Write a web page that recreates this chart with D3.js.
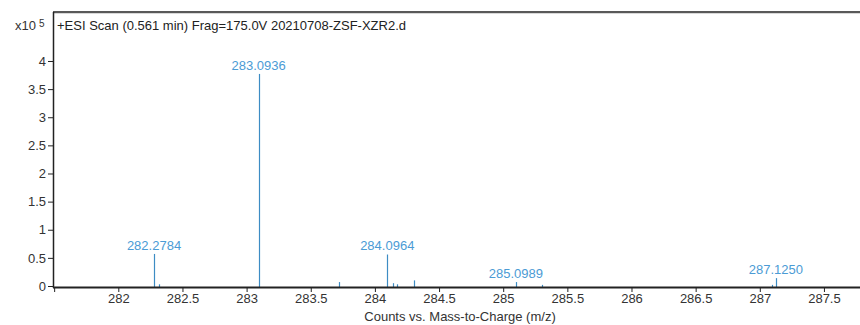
<!DOCTYPE html>
<html>
<head>
<meta charset="utf-8">
<script src="https://cdn.jsdelivr.net/npm/d3@7"></script>
<style>
  html, body { margin: 0; padding: 0; background: #fff; }
  svg { display: block; font-family: "Liberation Sans", Arial, sans-serif; }
</style>
</head>
<body>
<svg id="chart" width="860" height="325"></svg>
<script>
// Spectrum peaks: m/z and abundance (x10^5 counts)
const peakMz =    [282.2784, 282.3150, 283.0936, 283.7200, 284.0964, 284.1400, 284.1750, 284.3050, 285.0989, 285.3000, 287.0930, 287.1250];
const peakCounts = [0.57,     0.03,     3.77,     0.07,     0.56,     0.05,     0.03,     0.10,     0.07,     0.02,     0.02,     0.14];
// Labelled peaks
const labelMz =   [282.2784, 283.0936, 284.0964, 285.0989, 287.1250];
const labelText = ["282.2784", "283.0936", "284.0964", "285.0989", "287.1250"];
const labelCounts = [0.57, 3.77, 0.56, 0.07, 0.14];
// Axis ticks
const xTicks = [281.5, 282, 282.5, 283, 283.5, 284, 284.5, 285, 285.5, 286, 286.5, 287, 287.5];
const yTicks = [0, 0.5, 1, 1.5, 2, 2.5, 3, 3.5, 4];

const titleText = "+ESI Scan (0.561 min) Frag=175.0V 20210708-ZSF-XZR2.d";
const xTitle = "Counts vs. Mass-to-Charge (m/z)";

const svg = d3.select("#chart");
const plotLeft = 53, plotRight = 860, plotTop = 12, plotBottom = 286;
const fontSize = 13;

const x = d3.scaleLinear().domain([281.491, 287.781]).range([plotLeft, plotRight]);
const y = d3.scaleLinear().domain([0, 4.871]).range([plotBottom, plotTop]);

const lineColor = "#3d8cc4";
const labelColor = "#4b9bd5";
const inkColor = "#222";

// Frame: top border with a soft shadow line under it
svg.append("line").attr("x1", plotLeft).attr("x2", plotRight).attr("y1", plotTop + 1.5).attr("y2", plotTop + 1.5)
  .attr("stroke", "#d8d8d8").attr("stroke-width", 1);
svg.append("line").attr("x1", plotLeft).attr("x2", plotRight).attr("y1", plotTop).attr("y2", plotTop)
  .attr("stroke", inkColor).attr("stroke-width", 1.5);

// Peaks as sticks
svg.append("g").selectAll("line").data(peakMz.map((m, i) => ({ m, c: peakCounts[i] })))
  .join("line")
  .attr("x1", d => Math.round(x(d.m)) + 0.5).attr("x2", d => Math.round(x(d.m)) + 0.5)
  .attr("y1", y(0) + 1).attr("y2", d => y(d.c))
  .attr("stroke", lineColor).attr("stroke-width", 1.2);

// Peak labels
svg.append("g").selectAll("text").data(labelMz.map((m, i) => ({ m, t: labelText[i], c: labelCounts[i] })))
  .join("text")
  .attr("x", d => x(d.m)).attr("y", d => y(d.c) - 4)
  .attr("text-anchor", "middle")
  .attr("fill", labelColor).attr("font-size", fontSize)
  .text(d => d.t);

// Y axis
const yAxis = d3.axisLeft(y).tickValues(yTicks).tickSize(5).tickPadding(2)
  .tickFormat(d => d3.format("~g")(d));
const gy = svg.append("g").attr("transform", `translate(${plotLeft},0)`).call(yAxis);
gy.select(".domain").attr("stroke", inkColor).attr("stroke-width", 1.5).attr("d", `M0.5,${plotTop}V${plotBottom + 2}`);
gy.selectAll(".tick line").attr("stroke", inkColor);
gy.selectAll(".tick text").attr("fill", "#333").attr("font-size", fontSize).attr("font-family", "Liberation Sans, Arial, sans-serif");

// X axis
const xAxis = d3.axisBottom(x).tickValues(xTicks).tickSize(5).tickPadding(2)
  .tickFormat(d => d === 281.5 ? "" : d3.format("~g")(d));
const gx = svg.append("g").attr("transform", `translate(0,${plotBottom + 1})`).call(xAxis);
gx.select(".domain").attr("stroke", inkColor).attr("stroke-width", 2.2).attr("d", `M${plotLeft},0.5H${plotRight}`);
gx.selectAll(".tick line").attr("stroke", inkColor);
gx.selectAll(".tick text").attr("fill", "#333").attr("font-size", fontSize).attr("font-family", "Liberation Sans, Arial, sans-serif");

// Title and exponent marker
svg.append("text").attr("x", plotLeft + 4).attr("y", 30).attr("font-size", fontSize).attr("fill", "#222").text(titleText);
const exp = svg.append("text").attr("x", 15).attr("y", 30).attr("font-size", fontSize).attr("fill", "#333");
exp.append("tspan").text("x10");
exp.append("tspan").attr("dx", 3).attr("dy", -3).attr("font-size", 10).text("5");

// X axis title
svg.append("text").attr("x", 460).attr("y", 321).attr("text-anchor", "middle")
  .attr("font-size", fontSize).attr("fill", "#333").text(xTitle);
</script>
</body>
</html>
